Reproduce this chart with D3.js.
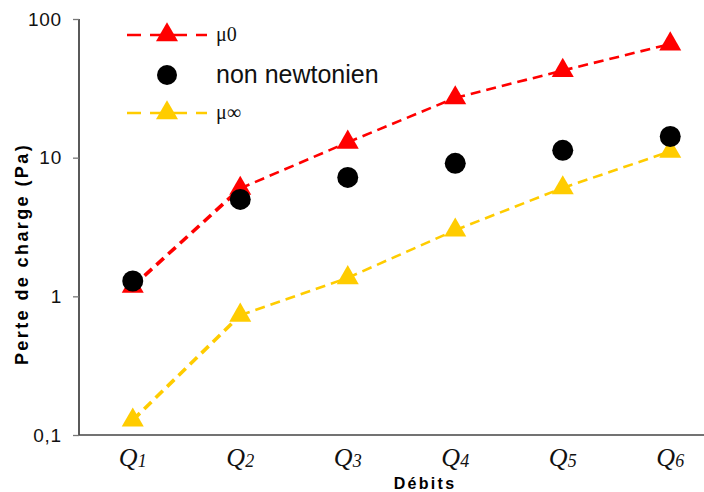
<!DOCTYPE html>
<html>
<head>
<meta charset="utf-8">
<script src="https://cdn.jsdelivr.net/npm/d3@7"></script>
<style>
html,body{margin:0;padding:0;background:#fff;}
svg{display:block;}
</style>
</head>
<body>
<script>
const categories = ["1","2","3","4","5","6"];
const mu0 = [1.18, 6.0, 12.9, 27, 42.5, 66];
const nonNewtonien = [1.29, 5.0, 7.2, 9.1, 11.3, 14.2];
const muInf = [0.128, 0.73, 1.36, 3.0, 6.05, 11.1];
const yTicks = [0.1, 1, 10, 100];
const yTickLabels = ["0,1", "1", "10", "100"];

const W = 704, H = 492;
const svg = d3.select("body").append("svg").attr("width", W).attr("height", H);

const x = d3.scaleBand().domain(categories).range([79, 724]);
const y = d3.scaleLog().domain([0.1, 100]).range([435, 19]);
const cx = d => x(d) + x.bandwidth() / 2;

// axes
const yAxis = d3.axisLeft(y).tickValues(yTicks).tickFormat((d, i) => yTickLabels[i]).tickSize(6).tickPadding(11);
const gy = svg.append("g").attr("transform", "translate(79,0)").call(yAxis);
gy.select(".domain").attr("stroke", "#000").attr("stroke-width", 1.3).attr("d", "M0,19V435");
gy.selectAll(".tick line").attr("stroke", "#777").attr("stroke-width", 1.3);
gy.selectAll(".tick text").attr("font-family", "Liberation Sans, Arial, sans-serif").attr("font-size", 19)
  .attr("letter-spacing", 0.8).attr("fill", "#111");

svg.append("line").attr("x1", 79).attr("x2", 704).attr("y1", 435).attr("y2", 435).attr("stroke", "#444").attr("stroke-width", 1.3);

// x labels
const xl = svg.append("g");
categories.forEach(c => {
  const t = xl.append("text").attr("x", cx(c)).attr("y", 466).attr("text-anchor", "middle")
    .attr("font-family", "Liberation Serif, Times New Roman, serif").attr("font-style", "italic").attr("fill", "#111");
  t.append("tspan").attr("font-size", 26).text("Q");
  t.append("tspan").attr("font-size", 18).attr("dy", 1).text(c);
});

svg.append("text").attr("x", 425).attr("y", 489).attr("text-anchor", "middle")
  .attr("font-family", "Liberation Sans, Arial, sans-serif").attr("font-weight", "bold").attr("font-size", 16)
  .attr("letter-spacing", 2.3).text("Débits");

svg.append("text").attr("transform", "translate(28,254) rotate(-90)").attr("text-anchor", "middle")
  .attr("font-family", "Liberation Sans, Arial, sans-serif").attr("font-weight", "bold").attr("font-size", 18)
  .attr("letter-spacing", 2.4).text("Perte de charge (Pa)");

// lines (segment by segment; first segment drawn slightly heavier as in the original)
function drawSeries(data, color) {
  const g = svg.append("g");
  for (let i = 0; i < data.length - 1; i++) {
    g.append("line")
      .attr("x1", cx(categories[i])).attr("y1", y(data[i]))
      .attr("x2", cx(categories[i + 1])).attr("y2", y(data[i + 1]))
      .attr("stroke", color).attr("stroke-width", i === 0 ? 3.6 : 2.6)
      .attr("stroke-dasharray", "10,6");
  }
}
drawSeries(mu0, "#ff0000");
drawSeries(muInf, "#ffcc00");

const tri = d3.symbol().type(d3.symbolTriangle).size(210);
function drawTriangles(data, color) {
  svg.append("g").selectAll("path").data(data).join("path")
    .attr("d", tri).attr("fill", color)
    .attr("transform", (d, i) => `translate(${cx(categories[i])},${y(d)})`);
}
drawTriangles(mu0, "#ff0000");
drawTriangles(muInf, "#ffcc00");

svg.append("g").selectAll("circle").data(nonNewtonien).join("circle")
  .attr("cx", (d, i) => cx(categories[i])).attr("cy", d => y(d)).attr("r", 10.5).attr("fill", "#000");

// legend
const leg = svg.append("g");
function legLine(yy, color) {
  leg.append("line").attr("x1", 127).attr("x2", 207).attr("y1", yy).attr("y2", yy)
    .attr("stroke", color).attr("stroke-width", 2.6).attr("stroke-dasharray", "14,9");
  leg.append("path").attr("d", tri).attr("fill", color).attr("transform", `translate(167,${yy})`);
}
legLine(35, "#ff0000");
legLine(113, "#ffcc00");
leg.append("circle").attr("cx", 167).attr("cy", 75).attr("r", 10).attr("fill", "#000");
leg.append("text").attr("x", 216).attr("y", 41).attr("font-family", "Liberation Serif, Times New Roman, serif").attr("font-size", 20).attr("fill", "#111").text("μ0");
leg.append("text").attr("x", 216).attr("y", 83).attr("font-family", "Liberation Sans, Arial, sans-serif").attr("font-size", 25).attr("fill", "#111").text("non newtonien");
leg.append("text").attr("x", 216).attr("y", 119).attr("font-family", "Liberation Serif, Times New Roman, serif").attr("font-size", 20).attr("fill", "#111").text("μ∞");
</script>
</body>
</html>
